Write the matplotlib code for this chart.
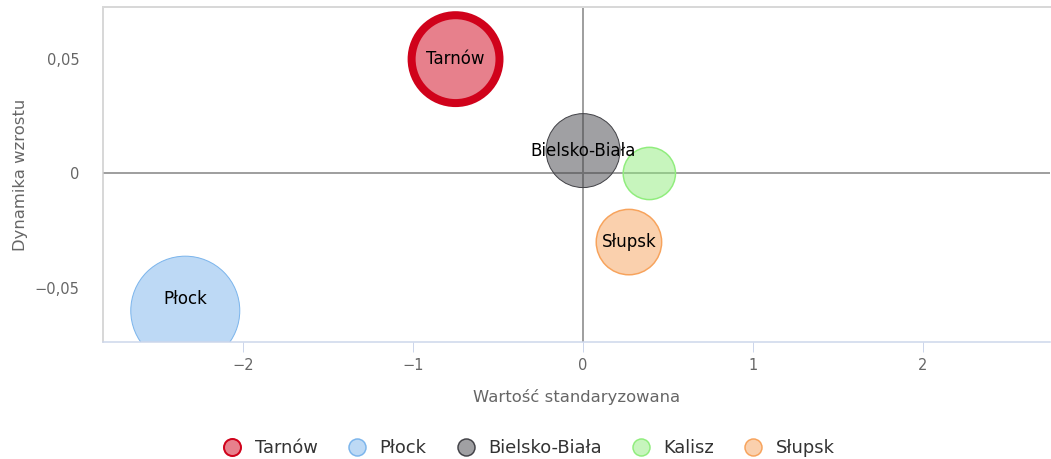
import matplotlib.pyplot as plt
from matplotlib.lines import Line2D
from matplotlib.patches import Circle
from matplotlib.transforms import ScaledTranslation
import numpy as np

# ===== Data =====
cities = ["Tarnów", "Płock", "Bielsko-Biała", "Kalisz", "Słupsk"]
x_std = [-0.75, -2.34, 0.0, 0.39, 0.27]
y_growth = [0.05, -0.06, 0.01, 0.0, -0.03]
z_size = [65, 100, 46, 23, 36]
show_label = [True, True, True, False, True]

x_ticks = [-2, -1, 0, 1, 2]
y_ticks = [-0.05, 0, 0.05]
y_tick_labels = ["\u22120,05", "0", "0,05"]
x_tick_labels = ["\u22122", "\u22121", "0", "1", "2"]

# ===== Styles =====
edge_colors = ["#d0021b", "#7cb5ec", "#434348", "#90ed7d", "#f7a35c"]
edge_widths = [8, 1, 1, 1.5, 1.5]
MAX_R_PX = 54.5
DPI = 100
PX = 72 / DPI  # points per pixel

plt.rcParams['font.family'] = ['DejaVu Sans']

fig = plt.figure(figsize=(10.51, 4.59), dpi=DPI)
ax = fig.add_axes([103 / 1051, 1 - 342 / 459, 947 / 1051, 335 / 459])
ax.set_xlim(-2.824, 2.747)
ax.set_ylim(-0.0737, 0.0728)

# plot lines through zero
ax.axvline(0, color="#a0a0a0", lw=2 * PX, zorder=1)
ax.axhline(0, color="#a0a0a0", lw=2 * PX, zorder=1)

zmax = max(z_size)
radii = [MAX_R_PX * np.sqrt(z / zmax) for z in z_size]

# bubbles: circles sized in pixels, placed at data coordinates
for i in range(len(cities)):
    tr = fig.dpi_scale_trans + ScaledTranslation(x_std[i], y_growth[i], ax.transData)
    r_in = radii[i] / DPI
    ax.add_patch(Circle((0, 0), r_in, transform=tr, facecolor=edge_colors[i],
                        alpha=0.5, edgecolor="none", zorder=2, clip_on=True))
    ax.add_patch(Circle((0, 0), r_in, transform=tr, facecolor="none",
                        edgecolor=edge_colors[i], linewidth=edge_widths[i] * PX,
                        zorder=3, clip_on=True))

# data labels (kept inside the visible part of the bubble)
fig.canvas.draw()
trans = ax.transData
inv = trans.inverted()
ybot = ax.get_ylim()[0]
for i in range(len(cities)):
    if not show_label[i]:
        continue
    cx, cy = trans.transform((x_std[i], y_growth[i]))
    r = radii[i] * fig.dpi / DPI
    _, bot_px = trans.transform((0, ybot))
    top_px = cy + r
    low_px = max(cy - r, bot_px)
    ly = (top_px + low_px) / 2
    lx, ly = inv.transform((cx, ly))
    ax.text(lx, ly, cities[i], ha="center", va="center", fontsize=12,
            color="black", zorder=5)

# axes styling
ax.spines["right"].set_visible(False)
ax.spines["top"].set_color("#d8d8d8")
ax.spines["top"].set_linewidth(2 * PX)
ax.spines["left"].set_color("#cccccc")
ax.spines["left"].set_linewidth(1.5 * PX)
ax.spines["bottom"].set_color("#ccd6eb")
ax.spines["bottom"].set_linewidth(1.5 * PX)
for sp in ax.spines.values():
    sp.set_zorder(6)

ax.set_xticks(x_ticks)
ax.set_xticklabels(x_tick_labels)
ax.set_yticks(y_ticks)
ax.set_yticklabels(y_tick_labels)
ax.tick_params(axis="x", length=10 * PX, width=1 * PX, color="#ccd6eb",
               labelcolor="#666666", labelsize=10.5, pad=4)
ax.tick_params(axis="y", length=0, labelcolor="#666666", labelsize=10.5, pad=17)

ax.set_xlabel("Wartość standaryzowana", color="#666666", fontsize=11.8, labelpad=12)
ax.set_ylabel("Dynamika wzrostu", color="#666666", fontsize=11.8, labelpad=5)

# legend
handles = []
for i in range(len(cities)):
    handles.append(Line2D([], [], linestyle="none", marker="o", markersize=17 * PX,
                          markerfacecolor=edge_colors[i] + "80",
                          markeredgecolor=edge_colors[i],
                          markeredgewidth=1.5 * PX if i else 2 * PX))
leg = fig.legend(handles, cities, loc="center", bbox_to_anchor=(529 / 1051, 1 - 448 / 459),
                 ncol=5, frameon=False, fontsize=12.9, handletextpad=0.74,
                 columnspacing=1.7, handlelength=1.0)
for t in leg.get_texts():
    t.set_color("#333333")

fig.savefig("out.png", dpi=DPI)
